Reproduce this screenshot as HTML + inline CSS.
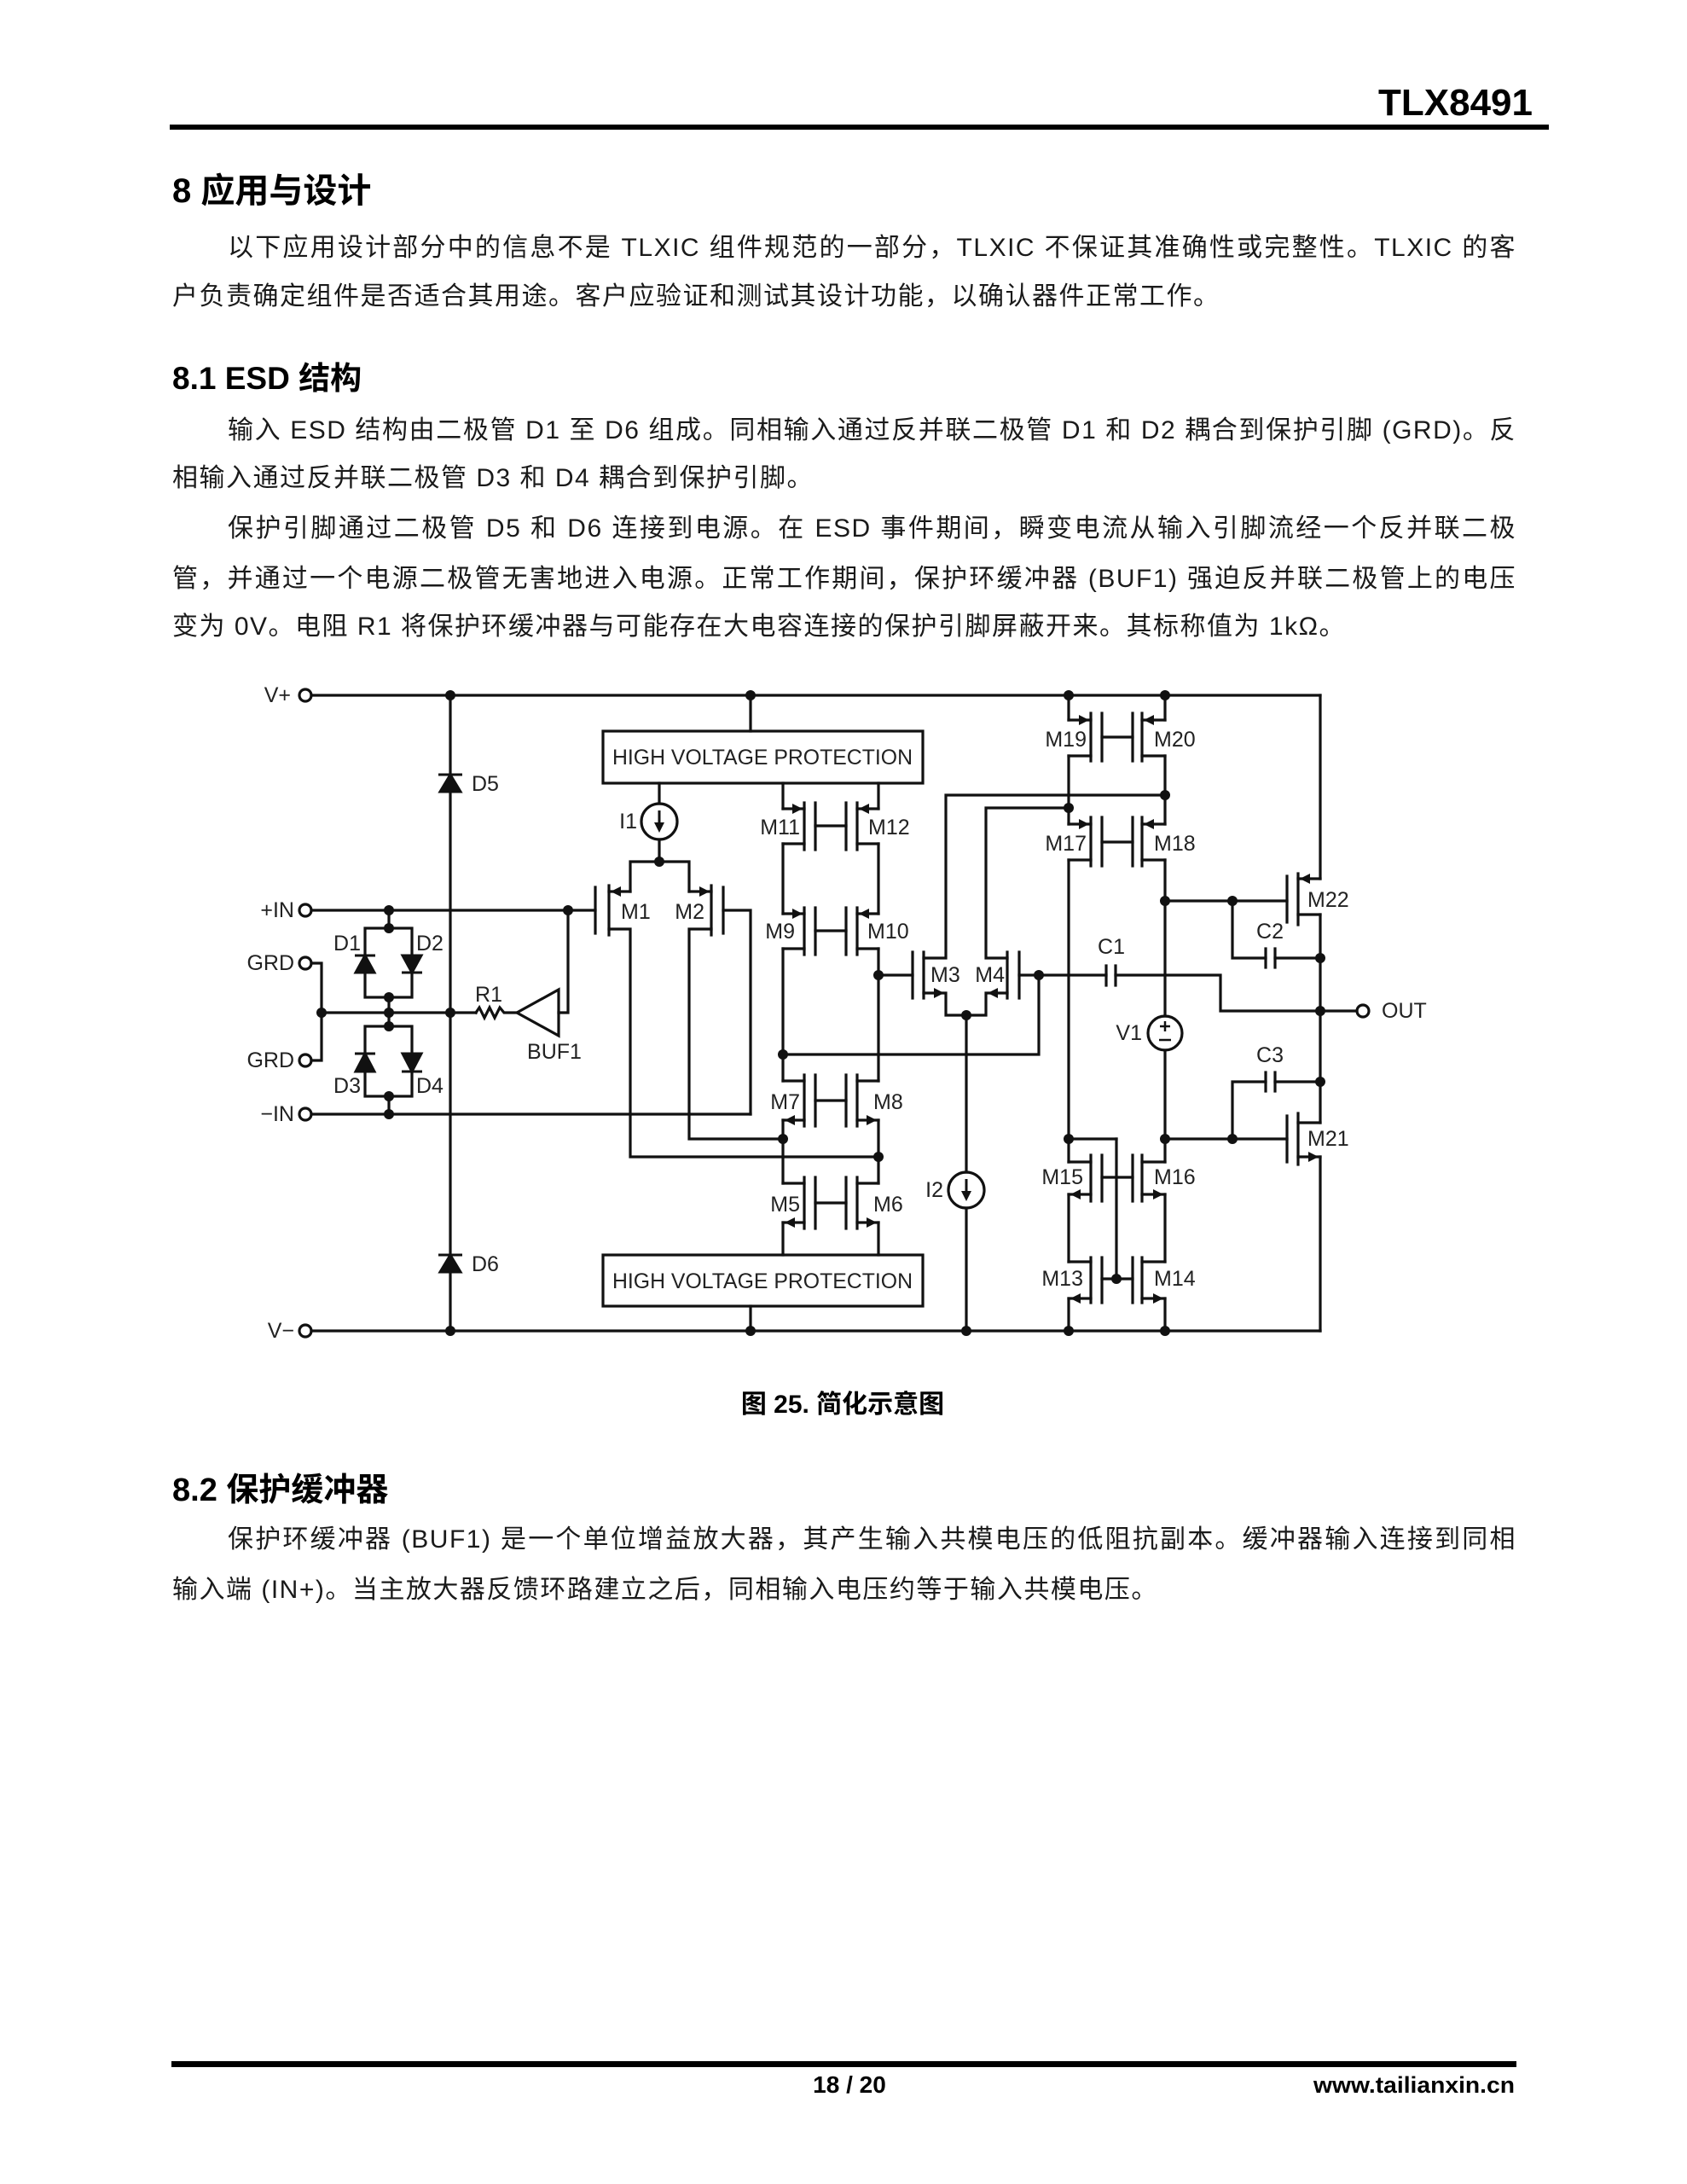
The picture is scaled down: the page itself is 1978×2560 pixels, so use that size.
<!DOCTYPE html>
<html><head><meta charset="utf-8">
<style>
html,body{margin:0;padding:0;background:#fff;}
body{width:1978px;height:2560px;position:relative;overflow:hidden;font-family:"Liberation Sans","Noto Sans CJK SC",sans-serif;color:#111;}
.t{position:absolute;left:202px;width:1576px;font-size:30px;line-height:40px;height:40px;white-space:nowrap;letter-spacing:1.5px;color:#1a1a1a;}
.j{text-align:justify;text-align-last:justify;white-space:normal;overflow:hidden;}
.ind{left:267px;width:1511px;}
.h{position:absolute;left:202px;font-weight:bold;white-space:nowrap;color:#000;}
svg{position:absolute;left:0;top:0;}
</style></head><body>

<div class="h" style="top:198px;font-size:40px;line-height:52px;">8 应用与设计</div>
<div class="t j ind" style="top:271px;">以下应用设计部分中的信息不是 TLXIC 组件规范的一部分，TLXIC 不保证其准确性或完整性。TLXIC 的客</div>
<div class="t" style="top:328px;">户负责确定组件是否适合其用途。客户应验证和测试其设计功能，以确认器件正常工作。</div>

<div class="h" style="top:420px;font-size:37px;line-height:48px;">8.1 ESD 结构</div>
<div class="t j ind" style="top:485px;">输入 ESD 结构由二极管 D1 至 D6 组成。同相输入通过反并联二极管 D1 和 D2 耦合到保护引脚 (GRD)。反</div>
<div class="t" style="top:541px;">相输入通过反并联二极管 D3 和 D4 耦合到保护引脚。</div>
<div class="t j ind" style="top:600px;">保护引脚通过二极管 D5 和 D6 连接到电源。在 ESD 事件期间，瞬变电流从输入引脚流经一个反并联二极</div>
<div class="t j" style="top:659px;">管，并通过一个电源二极管无害地进入电源。正常工作期间，保护环缓冲器 (BUF1) 强迫反并联二极管上的电压</div>
<div class="t" style="top:715px;">变为 0V。电阻 R1 将保护环缓冲器与可能存在大电容连接的保护引脚屏蔽开来。其标称值为 1kΩ。</div>

<div class="h" style="top:1723px;font-size:38px;line-height:48px;">8.2 保护缓冲器</div>
<div class="t j ind" style="top:1785px;">保护环缓冲器 (BUF1) 是一个单位增益放大器，其产生输入共模电压的低阻抗副本。缓冲器输入连接到同相</div>
<div class="t" style="top:1844px;">输入端 (IN+)。当主放大器反馈环路建立之后，同相输入电压约等于输入共模电压。</div>

<svg width="1978" height="2560" viewBox="0 0 1978 2560" xmlns="http://www.w3.org/2000/svg">
<!-- header / footer -->
<text x="1797" y="135" text-anchor="end" font-family="Liberation Sans" font-weight="bold" font-size="44">TLX8491</text>
<rect x="199" y="146" width="1617" height="6" fill="#000"/>
<text x="988" y="1656" text-anchor="middle" font-family="Liberation Sans, Noto Sans CJK SC, sans-serif" font-weight="bold" font-size="30">图 25. 简化示意图</text>
<rect x="201" y="2416" width="1577" height="7" fill="#000"/>
<text x="996" y="2453" text-anchor="middle" font-family="Liberation Sans" font-weight="bold" font-size="28">18 / 20</text>
<text x="1776" y="2453" text-anchor="end" font-family="Liberation Sans" font-weight="bold" font-size="27" textLength="236" lengthAdjust="spacingAndGlyphs">www.tailianxin.cn</text>

<g stroke="#111" stroke-width="3.2" fill="none" stroke-linecap="square">
<!-- rails -->
<line x1="365" y1="815" x2="1548" y2="815"/>
<line x1="365" y1="1560" x2="1548" y2="1560"/>
<line x1="528" y1="815" x2="528" y2="1560"/>
<line x1="1548" y1="815" x2="1548" y2="1030"/>
<line x1="1548" y1="1072" x2="1548" y2="1316"/>
<line x1="1548" y1="1356" x2="1548" y2="1560"/>
<!-- left terminals -->
<line x1="365" y1="1067" x2="698" y2="1067"/>
<line x1="365" y1="1306" x2="880" y2="1306"/>
<polyline points="365,1129 377,1129 377,1243 365,1243"/>
<line x1="377" y1="1187" x2="558" y2="1187"/>
<!-- bridge -->
<line x1="456" y1="1067" x2="456" y2="1088"/>
<rect x="428" y="1088" width="55" height="81"/>
<line x1="456" y1="1169" x2="456" y2="1203"/>
<rect x="428" y="1203" width="55" height="82"/>
<line x1="456" y1="1285" x2="456" y2="1306"/>
<!-- R1 and BUF1 -->
<polyline points="558,1187 562,1181 568,1193 574,1181 580,1193 586,1181 591,1187 606,1187"/>
<polygon points="606,1187 655,1160 655,1214"/>
<polyline points="655,1187 666,1187 666,1067"/>
<!-- HV boxes -->
<rect x="707" y="857" width="375" height="61"/>
<rect x="707" y="1471" width="375" height="60"/>
<line x1="880" y1="815" x2="880" y2="857"/>
<line x1="880" y1="1531" x2="880" y2="1560"/>
<!-- I1 -->
<line x1="773" y1="918" x2="773" y2="942"/>
<circle cx="773" cy="963" r="21"/>
<line x1="773" y1="984" x2="773" y2="1010"/>
<polyline points="739,1045 739,1010 808,1010 808,1045"/>
<!-- M1 -->
<line x1="698" y1="1040" x2="698" y2="1094"/>
<line x1="714" y1="1038" x2="714" y2="1096"/>
<line x1="714" y1="1045" x2="739" y2="1045"/>
<polyline points="714,1089 739,1089 739,1356 1030,1356"/>
<!-- M2 -->
<line x1="848" y1="1040" x2="848" y2="1094"/>
<line x1="834" y1="1038" x2="834" y2="1096"/>
<line x1="808" y1="1045" x2="834" y2="1045"/>
<polyline points="834,1089 808,1089 808,1335 918,1335"/>
<polyline points="848,1067 880,1067 880,1306"/>
<!-- left stack x=918, right stack x=1030 -->
<line x1="918" y1="918" x2="918" y2="948"/>
<line x1="1030" y1="918" x2="1030" y2="948"/>
<!-- M11/M12 -->
<line x1="918" y1="948" x2="943" y2="948"/><line x1="918" y1="989" x2="943" y2="989"/>
<line x1="943" y1="941" x2="943" y2="996"/><line x1="956" y1="941" x2="956" y2="996"/>
<line x1="956" y1="968" x2="992" y2="968"/>
<line x1="992" y1="941" x2="992" y2="996"/><line x1="1005" y1="941" x2="1005" y2="996"/>
<line x1="1005" y1="948" x2="1030" y2="948"/><line x1="1005" y1="989" x2="1030" y2="989"/>
<line x1="918" y1="989" x2="918" y2="1071"/><line x1="1030" y1="989" x2="1030" y2="1071"/>
<!-- M9/M10 -->
<line x1="918" y1="1071" x2="943" y2="1071"/><line x1="918" y1="1112" x2="943" y2="1112"/>
<line x1="943" y1="1064" x2="943" y2="1119"/><line x1="956" y1="1064" x2="956" y2="1119"/>
<line x1="956" y1="1091" x2="992" y2="1091"/>
<line x1="992" y1="1064" x2="992" y2="1119"/><line x1="1005" y1="1064" x2="1005" y2="1119"/>
<line x1="1005" y1="1071" x2="1030" y2="1071"/><line x1="1005" y1="1112" x2="1030" y2="1112"/>
<line x1="918" y1="1112" x2="918" y2="1267"/><line x1="1030" y1="1112" x2="1030" y2="1267"/>
<!-- M7/M8 -->
<line x1="918" y1="1267" x2="943" y2="1267"/><line x1="918" y1="1313" x2="943" y2="1313"/>
<line x1="943" y1="1260" x2="943" y2="1320"/><line x1="956" y1="1260" x2="956" y2="1320"/>
<line x1="956" y1="1290" x2="992" y2="1290"/>
<line x1="992" y1="1260" x2="992" y2="1320"/><line x1="1005" y1="1260" x2="1005" y2="1320"/>
<line x1="1005" y1="1267" x2="1030" y2="1267"/><line x1="1005" y1="1313" x2="1030" y2="1313"/>
<line x1="918" y1="1313" x2="918" y2="1387"/><line x1="1030" y1="1313" x2="1030" y2="1387"/>
<!-- M5/M6 -->
<line x1="918" y1="1387" x2="943" y2="1387"/><line x1="918" y1="1433" x2="943" y2="1433"/>
<line x1="943" y1="1380" x2="943" y2="1440"/><line x1="956" y1="1380" x2="956" y2="1440"/>
<line x1="956" y1="1410" x2="992" y2="1410"/>
<line x1="992" y1="1380" x2="992" y2="1440"/><line x1="1005" y1="1380" x2="1005" y2="1440"/>
<line x1="1005" y1="1387" x2="1030" y2="1387"/><line x1="1005" y1="1433" x2="1030" y2="1433"/>
<line x1="918" y1="1433" x2="918" y2="1471"/><line x1="1030" y1="1433" x2="1030" y2="1471"/>
<!-- M3/M4 -->
<line x1="1030" y1="1143" x2="1070" y2="1143"/>
<line x1="1070" y1="1116" x2="1070" y2="1170"/><line x1="1083" y1="1116" x2="1083" y2="1170"/>
<polyline points="1083,1123 1109,1123 1109,932 1366,932"/>
<polyline points="1083,1164 1109,1164 1109,1190 1156,1190 1156,1164 1181,1164"/>
<line x1="1181" y1="1116" x2="1181" y2="1170"/><line x1="1195" y1="1116" x2="1195" y2="1170"/>
<polyline points="1181,1123 1156,1123 1156,947 1253,947"/>
<line x1="1195" y1="1143" x2="1297" y2="1143"/>
<polyline points="1218,1143 1218,1236 918,1236"/>
<line x1="1133" y1="1190" x2="1133" y2="1374"/>
<circle cx="1133" cy="1395" r="21"/>
<line x1="1133" y1="1416" x2="1133" y2="1560"/>
<!-- C1 -->
<line x1="1297" y1="1132" x2="1297" y2="1155"/><line x1="1308" y1="1132" x2="1308" y2="1155"/>
<polyline points="1308,1143 1431,1143 1431,1185 1591,1185"/>
<circle cx="1598" cy="1185" r="7"/>
<!-- M19/M20 -->
<line x1="1253" y1="815" x2="1253" y2="844"/><line x1="1366" y1="815" x2="1366" y2="844"/>
<line x1="1253" y1="844" x2="1279" y2="844"/><line x1="1253" y1="886" x2="1279" y2="886"/>
<line x1="1279" y1="836" x2="1279" y2="892"/><line x1="1292" y1="836" x2="1292" y2="892"/>
<line x1="1292" y1="864" x2="1328" y2="864"/>
<line x1="1328" y1="836" x2="1328" y2="892"/><line x1="1339" y1="836" x2="1339" y2="892"/>
<line x1="1339" y1="844" x2="1366" y2="844"/><line x1="1339" y1="886" x2="1366" y2="886"/>
<line x1="1253" y1="886" x2="1253" y2="966"/><line x1="1366" y1="886" x2="1366" y2="966"/>
<!-- M17/M18 -->
<line x1="1253" y1="966" x2="1279" y2="966"/><line x1="1253" y1="1008" x2="1279" y2="1008"/>
<line x1="1279" y1="958" x2="1279" y2="1015"/><line x1="1292" y1="958" x2="1292" y2="1015"/>
<line x1="1292" y1="987" x2="1328" y2="987"/>
<line x1="1328" y1="958" x2="1328" y2="1015"/><line x1="1339" y1="958" x2="1339" y2="1015"/>
<line x1="1339" y1="966" x2="1366" y2="966"/><line x1="1339" y1="1008" x2="1366" y2="1008"/>
<line x1="1253" y1="1008" x2="1253" y2="1362"/>
<line x1="1366" y1="1008" x2="1366" y2="1191"/>
<circle cx="1366" cy="1211" r="20"/>
<line x1="1366" y1="1231" x2="1366" y2="1362"/>
<!-- M22 -->
<polyline points="1366,1056 1509,1056"/>
<line x1="1509" y1="1027" x2="1509" y2="1081"/><line x1="1522" y1="1024" x2="1522" y2="1084"/>
<line x1="1522" y1="1030" x2="1548" y2="1030"/><line x1="1522" y1="1072" x2="1548" y2="1072"/>
<polyline points="1445,1056 1445,1123 1484,1123"/>
<line x1="1484" y1="1112" x2="1484" y2="1134"/><line x1="1495" y1="1112" x2="1495" y2="1134"/>
<line x1="1495" y1="1123" x2="1548" y2="1123"/>
<!-- M21 -->
<line x1="1253" y1="1335" x2="1309" y2="1335"/>
<line x1="1366" y1="1335" x2="1509" y2="1335"/>
<line x1="1509" y1="1308" x2="1509" y2="1362"/><line x1="1522" y1="1305" x2="1522" y2="1365"/>
<line x1="1522" y1="1316" x2="1548" y2="1316"/><line x1="1522" y1="1356" x2="1548" y2="1356"/>
<polyline points="1445,1335 1445,1268 1484,1268"/>
<line x1="1484" y1="1257" x2="1484" y2="1279"/><line x1="1495" y1="1257" x2="1495" y2="1279"/>
<line x1="1495" y1="1268" x2="1548" y2="1268"/>
<!-- M15/M16 -->
<line x1="1253" y1="1362" x2="1279" y2="1362"/><line x1="1253" y1="1400" x2="1279" y2="1400"/>
<line x1="1279" y1="1354" x2="1279" y2="1408"/><line x1="1292" y1="1354" x2="1292" y2="1408"/>
<line x1="1292" y1="1380" x2="1328" y2="1380"/>
<line x1="1328" y1="1354" x2="1328" y2="1408"/><line x1="1339" y1="1354" x2="1339" y2="1408"/>
<line x1="1339" y1="1362" x2="1366" y2="1362"/><line x1="1339" y1="1400" x2="1366" y2="1400"/>
<line x1="1253" y1="1400" x2="1253" y2="1479"/><line x1="1366" y1="1400" x2="1366" y2="1479"/>
<line x1="1309" y1="1335" x2="1309" y2="1499"/>
<!-- M13/M14 -->
<line x1="1253" y1="1479" x2="1279" y2="1479"/><line x1="1253" y1="1522" x2="1279" y2="1522"/>
<line x1="1279" y1="1474" x2="1279" y2="1527"/><line x1="1292" y1="1474" x2="1292" y2="1527"/>
<line x1="1292" y1="1499" x2="1328" y2="1499"/>
<line x1="1328" y1="1474" x2="1328" y2="1527"/><line x1="1339" y1="1474" x2="1339" y2="1527"/>
<line x1="1339" y1="1479" x2="1366" y2="1479"/><line x1="1339" y1="1522" x2="1366" y2="1522"/>
<line x1="1253" y1="1522" x2="1253" y2="1560"/><line x1="1366" y1="1522" x2="1366" y2="1560"/>
<!-- terminal circles -->
<circle cx="358" cy="815" r="7"/><circle cx="358" cy="1067" r="7"/>
<circle cx="358" cy="1129" r="7"/><circle cx="358" cy="1243" r="7"/>
<circle cx="358" cy="1306" r="7"/><circle cx="358" cy="1560" r="7"/>
</g>

<!-- filled shapes: diodes, arrows, dots -->
<g fill="#111" stroke="#111" stroke-width="3">
<!-- D1 up, D2 down, D3 up, D4 down -->
<polygon points="428,1120 417,1140 439,1140"/><line x1="416" y1="1120" x2="440" y2="1120"/>
<polygon points="483,1140 472,1120 494,1120"/><line x1="471" y1="1140" x2="495" y2="1140"/>
<polygon points="428,1235 417,1256 439,1256"/><line x1="416" y1="1235" x2="440" y2="1235"/>
<polygon points="483,1256 472,1235 494,1235"/><line x1="471" y1="1256" x2="495" y2="1256"/>
<!-- D5 D6 up -->
<polygon points="528,908 516,928 540,928"/><line x1="514" y1="908" x2="542" y2="908"/>
<polygon points="528,1471 516,1491 540,1491"/><line x1="514" y1="1471" x2="542" y2="1471"/>
</g>
<g fill="#111" stroke="none">
<!-- I1 I2 arrows -->
<polygon points="773,976 767,964 779,964"/><rect x="771.5" y="950" width="3" height="16"/>
<polygon points="1133,1408 1127,1396 1139,1396"/><rect x="1131.5" y="1382" width="3" height="16"/>
<!-- PMOS arrows into channel -->
<polygon points="716,1045 728,1039 728,1051"/>
<polygon points="832,1045 820,1039 820,1051"/>
<polygon points="941,948 929,942 929,954"/><polygon points="1007,948 1019,942 1019,954"/>
<polygon points="941,1071 929,1065 929,1077"/><polygon points="1007,1071 1019,1065 1019,1077"/>
<polygon points="1277,844 1265,838 1265,850"/><polygon points="1341,844 1353,838 1353,850"/>
<polygon points="1277,966 1265,960 1265,972"/><polygon points="1341,966 1353,960 1353,972"/>
<polygon points="1524,1030 1536,1024 1536,1036"/>
<!-- NMOS arrows away -->
<polygon points="920,1313 932,1307 932,1319"/><polygon points="1028,1313 1016,1307 1016,1319"/>
<polygon points="920,1433 932,1427 932,1439"/><polygon points="1028,1433 1016,1427 1016,1439"/>
<polygon points="1107,1164 1095,1158 1095,1170"/><polygon points="1158,1164 1170,1158 1170,1170"/>
<polygon points="1255,1400 1267,1394 1267,1406"/><polygon points="1364,1400 1352,1394 1352,1406"/>
<polygon points="1255,1522 1267,1516 1267,1528"/><polygon points="1364,1522 1352,1516 1352,1528"/>
<polygon points="1546,1356 1534,1350 1534,1362"/>
<!-- dots -->
<circle cx="528" cy="815" r="6"/><circle cx="880" cy="815" r="6"/><circle cx="1253" cy="815" r="6"/><circle cx="1366" cy="815" r="6"/>
<circle cx="528" cy="1560" r="6"/><circle cx="880" cy="1560" r="6"/><circle cx="1133" cy="1560" r="6"/><circle cx="1253" cy="1560" r="6"/><circle cx="1366" cy="1560" r="6"/>
<circle cx="456" cy="1067" r="6"/><circle cx="456" cy="1088" r="6"/><circle cx="456" cy="1169" r="6"/><circle cx="456" cy="1187" r="6"/>
<circle cx="456" cy="1203" r="6"/><circle cx="456" cy="1285" r="6"/><circle cx="456" cy="1306" r="6"/>
<circle cx="377" cy="1187" r="6"/><circle cx="528" cy="1187" r="6"/><circle cx="666" cy="1067" r="6"/>
<circle cx="773" cy="1010" r="6"/>
<circle cx="1030" cy="1143" r="6"/><circle cx="918" cy="1236" r="6"/><circle cx="918" cy="1335" r="6"/><circle cx="1030" cy="1356" r="6"/>
<circle cx="1133" cy="1190" r="6"/><circle cx="1218" cy="1143" r="6"/>
<circle cx="1366" cy="932" r="6"/><circle cx="1253" cy="947" r="6"/>
<circle cx="1366" cy="1056" r="6"/><circle cx="1445" cy="1056" r="6"/>
<circle cx="1548" cy="1123" r="6"/><circle cx="1548" cy="1185" r="6"/><circle cx="1548" cy="1268" r="6"/>
<circle cx="1253" cy="1335" r="6"/><circle cx="1366" cy="1335" r="6"/><circle cx="1445" cy="1335" r="6"/>
<circle cx="1309" cy="1499" r="6"/>
</g>
<!-- V1 sign -->
<g stroke="#111" stroke-width="2.5">
<line x1="1360" y1="1203" x2="1372" y2="1203"/><line x1="1366" y1="1197" x2="1366" y2="1209"/>
<line x1="1359" y1="1219" x2="1373" y2="1219"/>
</g>

<!-- labels -->
<g font-family="Liberation Sans, sans-serif" font-size="25" fill="#222" dominant-baseline="central">
<text x="341" y="815" text-anchor="end">V+</text>
<text x="345" y="1067" text-anchor="end">+IN</text>
<text x="345" y="1129" text-anchor="end">GRD</text>
<text x="345" y="1243" text-anchor="end">GRD</text>
<text x="345" y="1306" text-anchor="end">−IN</text>
<text x="345" y="1560" text-anchor="end">V−</text>
<text x="423" y="1106" text-anchor="end">D1</text>
<text x="488" y="1106">D2</text>
<text x="423" y="1273" text-anchor="end">D3</text>
<text x="488" y="1273">D4</text>
<text x="553" y="919">D5</text>
<text x="553" y="1482">D6</text>
<text x="573" y="1166" text-anchor="middle">R1</text>
<text x="650" y="1233" text-anchor="middle">BUF1</text>
<text x="894" y="888" text-anchor="middle" textLength="352" lengthAdjust="spacingAndGlyphs">HIGH VOLTAGE PROTECTION</text>
<text x="894" y="1502" text-anchor="middle" textLength="352" lengthAdjust="spacingAndGlyphs">HIGH VOLTAGE PROTECTION</text>
<text x="747" y="963" text-anchor="end">I1</text>
<text x="1106" y="1395" text-anchor="end">I2</text>
<text x="728" y="1069">M1</text>
<text x="826" y="1069" text-anchor="end">M2</text>
<text x="938" y="970" text-anchor="end">M11</text>
<text x="1018" y="970">M12</text>
<text x="932" y="1092" text-anchor="end">M9</text>
<text x="1017" y="1092">M10</text>
<text x="938" y="1292" text-anchor="end">M7</text>
<text x="1024" y="1292">M8</text>
<text x="938" y="1412" text-anchor="end">M5</text>
<text x="1024" y="1412">M6</text>
<text x="1091" y="1143">M3</text>
<text x="1178" y="1143" text-anchor="end">M4</text>
<text x="1303" y="1110" text-anchor="middle">C1</text>
<text x="1339" y="1211" text-anchor="end">V1</text>
<text x="1274" y="867" text-anchor="end">M19</text>
<text x="1353" y="867">M20</text>
<text x="1274" y="989" text-anchor="end">M17</text>
<text x="1353" y="989">M18</text>
<text x="1270" y="1380" text-anchor="end">M15</text>
<text x="1353" y="1380">M16</text>
<text x="1270" y="1499" text-anchor="end">M13</text>
<text x="1353" y="1499">M14</text>
<text x="1533" y="1055">M22</text>
<text x="1533" y="1335">M21</text>
<text x="1489" y="1092" text-anchor="middle">C2</text>
<text x="1489" y="1237" text-anchor="middle">C3</text>
<text x="1620" y="1185">OUT</text>
</g>
</svg>
</body></html>
